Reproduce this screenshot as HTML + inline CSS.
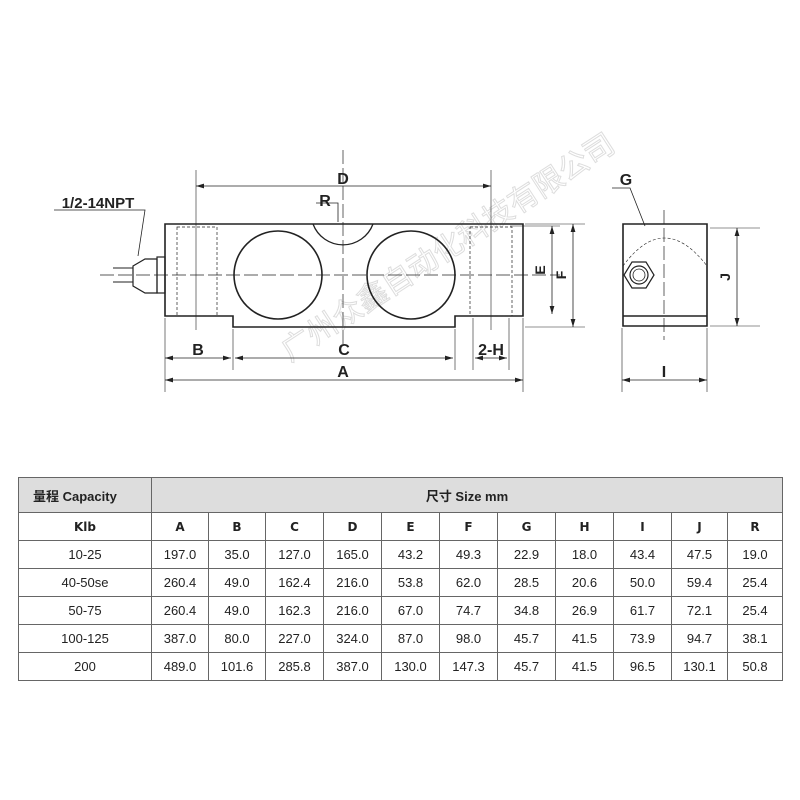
<!DOCTYPE html>
<html><head><meta charset="utf-8"><style>
body{margin:0;background:#fff;width:800px;height:800px;overflow:hidden;font-family:"Liberation Sans","Noto Sans CJK SC",sans-serif}
table{position:absolute;left:18px;top:477px;border-collapse:collapse;width:764px;table-layout:fixed;font-size:13px;color:#222}
td{border:1px solid #666;text-align:center;padding:0;height:27px}
.h td{background:#ddd;height:34px;font-weight:bold}
.b td{font-weight:bold;font-family:"DejaVu Sans",sans-serif;font-size:12px}
</style></head><body>
<svg width="800" height="470" style="position:absolute;left:0;top:0" font-family="Liberation Sans, sans-serif">
<defs><marker id="a" viewBox="0 0 10 6" refX="10" refY="3" markerWidth="10" markerHeight="6" orient="auto-start-reverse"><path d="M0,0L10,3L0,6z" fill="#222"/></marker></defs>
<text transform="translate(290,362) rotate(-33)" font-size="30" fill="none" stroke="#ddd" stroke-width="1" font-family="Noto Sans CJK SC, sans-serif">广州众鑫自动化科技有限公司</text>
<g stroke="#222" fill="none">
<path d="M165,224H523V316H455V327H233V316H165Z" stroke-width="1.6"/>
<path d="M313,224A32,32 0 0 0 373,224" stroke-width="1.3"/>
<circle cx="278" cy="275" r="44" stroke-width="1.6"/>
<circle cx="411" cy="275" r="44" stroke-width="1.6"/>
<g stroke-dasharray="3,2" stroke-width="0.7"><rect x="177" y="227" width="40" height="89"/><rect x="470" y="227" width="42" height="89"/></g>
<g stroke-dasharray="14,4" stroke-width="0.7"><path d="M100,275H560M343,150V345M664,210V340"/></g>
<path d="M113,268H133M113,282H133" stroke-width="1"/>
<path d="M133,266L145,259H157V293H145L133,286Z" stroke-width="1.2"/>
<rect x="157" y="257" width="8" height="36" stroke-width="1.2"/>
<g stroke-width="0.6"><path d="M196,170V330M491,170V330M165,318V392M523,318V392M233,329V370M455,329V370M473,318V370M509,318V370M525,224H585M525,327H585M510,226H560M622,328V392M707,328V392M710,228H760M710,326H760"/></g>
<g stroke-width="0.8" marker-start="url(#a)" marker-end="url(#a)">
<path d="M196,186H491"/><path d="M165,358H231"/><path d="M235,358H453"/><path d="M475,358H507"/><path d="M165,380H523"/>
<path d="M552,226V314"/><path d="M573,224V327"/><path d="M737,228V326"/><path d="M622,380H707"/></g>
<path d="M623,224H707V326H623Z M623,316H707" stroke-width="1.6"/>
<path d="M623,266Q664,210 707,266" stroke-dasharray="3,2" stroke-width="0.6"/>
<polygon points="654,275 646,288 632,288 624,275 632,262 646,262" stroke-width="1.2"/>
<circle cx="639" cy="275" r="9" stroke-width="1.2"/><circle cx="639" cy="275" r="6" stroke-width="0.8"/>
<path d="M54,210H145L138,256M316,203H338L338,222M612,188H630L645,226" stroke-width="0.8"/>
</g>
<g font-size="16" font-weight="bold" fill="#222" text-anchor="middle">
<text x="343" y="184">D</text><text x="325" y="206">R</text><text x="198" y="355">B</text><text x="344" y="355">C</text><text x="491" y="355">2-H</text><text x="343" y="377">A</text>
<text x="626" y="185">G</text><text x="664" y="377">I</text>
<text x="98" y="208" font-size="15">1/2-14NPT</text>
<text transform="translate(545,270) rotate(-90)" font-size="14">E</text>
<text transform="translate(566,275) rotate(-90)" font-size="14">F</text>
<text transform="translate(730,277) rotate(-90)" font-size="14">J</text>
</g>
</svg>
<table>
<colgroup><col style="width:133px"><col style="width:57px"><col style="width:57px"><col style="width:58px"><col style="width:58px"><col style="width:58px"><col style="width:58px"><col style="width:58px"><col style="width:58px"><col style="width:58px"><col style="width:56px"><col style="width:55px"></colgroup>
<tr class="h"><td style="text-align:left;padding-left:14px">量程 Capacity</td><td colspan="11">尺寸 Size mm</td></tr>
<tr class="b"><td>Klb</td><td>A</td><td>B</td><td>C</td><td>D</td><td>E</td><td>F</td><td>G</td><td>H</td><td>I</td><td>J</td><td>R</td></tr>
<tr><td>10-25</td><td>197.0</td><td>35.0</td><td>127.0</td><td>165.0</td><td>43.2</td><td>49.3</td><td>22.9</td><td>18.0</td><td>43.4</td><td>47.5</td><td>19.0</td></tr>
<tr><td>40-50se</td><td>260.4</td><td>49.0</td><td>162.4</td><td>216.0</td><td>53.8</td><td>62.0</td><td>28.5</td><td>20.6</td><td>50.0</td><td>59.4</td><td>25.4</td></tr>
<tr><td>50-75</td><td>260.4</td><td>49.0</td><td>162.3</td><td>216.0</td><td>67.0</td><td>74.7</td><td>34.8</td><td>26.9</td><td>61.7</td><td>72.1</td><td>25.4</td></tr>
<tr><td>100-125</td><td>387.0</td><td>80.0</td><td>227.0</td><td>324.0</td><td>87.0</td><td>98.0</td><td>45.7</td><td>41.5</td><td>73.9</td><td>94.7</td><td>38.1</td></tr>
<tr><td>200</td><td>489.0</td><td>101.6</td><td>285.8</td><td>387.0</td><td>130.0</td><td>147.3</td><td>45.7</td><td>41.5</td><td>96.5</td><td>130.1</td><td>50.8</td></tr>
</table>
</body></html>
